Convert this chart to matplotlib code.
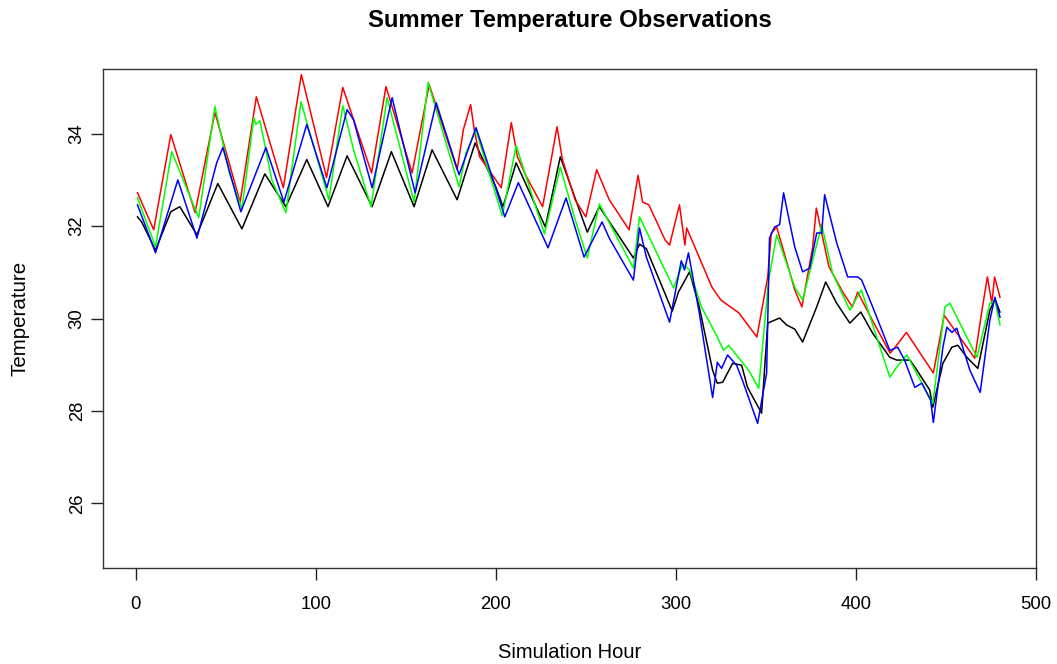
import matplotlib
matplotlib.use("Agg")
import matplotlib.pyplot as plt

plt.rcParams['font.family'] = ['Liberation Sans', 'DejaVu Sans']

# hourly observations at turning points
black_hours = [1, 3.3, 11, 19.5, 24.5, 34, 45.6, 59, 71.7, 83.4, 95, 106.8, 117.4, 131.3, 142,
               154.6, 164.6, 178.5, 188.5, 200, 204, 211.3, 227.5, 235.8, 250.8, 257.5, 268.6,
               276.4, 279.8, 283.6, 298, 301.4, 307.6, 313, 320.4, 323, 326, 331.5, 336.5, 339.8,
               347.6, 351, 357.6, 361.5, 366, 370.4, 378.2, 383.2, 389.3, 396.6, 402.7, 409.3,
               418.8, 422.7, 430, 432.7, 441, 442.7, 448.3, 453.3, 456.6, 461.6, 467.7, 474.4,
               477.2, 480]
black_temps = [32.20, 32.09, 31.48, 32.31, 32.42, 31.81, 32.92, 31.94, 33.13, 32.42, 33.44, 32.42,
               33.52, 32.42, 33.61, 32.42, 33.65, 32.57, 33.80, 32.85, 32.42, 33.37, 31.98, 33.50,
               31.87, 32.42, 31.77, 31.31, 31.61, 31.51, 30.16, 30.57, 31.01, 30.25, 28.88, 28.60,
               28.62, 29.03, 28.99, 28.51, 27.95, 29.90, 30.01, 29.86, 29.77, 29.49, 30.25, 30.79,
               30.33, 29.90, 30.14, 29.68, 29.16, 29.10, 29.10, 28.95, 28.45, 28.08, 29.03, 29.38,
               29.42, 29.16, 28.92, 30.18, 30.42, 30.14]

red_hours = [1, 10, 19.5, 33, 44, 58, 67, 82, 92, 106, 115, 131, 139, 153.5, 163, 178.5, 182,
             186, 188, 191, 195, 203, 208.6, 212, 217, 226, 230, 234, 237, 244, 250, 256, 259,
             263, 274, 279, 281.5, 285, 294, 296.5, 302, 305, 306, 320, 325, 335, 345, 351, 353,
             356, 366, 370, 376, 378, 385, 393, 398, 401, 409, 419, 424, 428, 443, 449, 466, 470,
             473, 475.5, 477, 480]
red_temps = [32.72, 31.92, 33.98, 32.29, 34.46, 32.52, 34.80, 32.83, 35.28, 33.05, 35.00, 33.15,
             35.02, 33.15, 35.06, 33.22, 34.09, 34.63, 34.09, 33.50, 33.28, 32.83, 34.24, 33.50,
             33.07, 32.42, 33.28, 34.15, 33.44, 32.57, 32.20, 33.22, 32.94, 32.57, 31.92, 33.10,
             32.52, 32.46, 31.70, 31.59, 32.46, 31.59, 31.96, 30.68, 30.40, 30.12, 29.60, 30.90,
             31.85, 31.98, 30.62, 30.25, 31.55, 32.39, 31.12, 30.55, 30.25, 30.57, 29.97, 29.25,
             29.49, 29.70, 28.82, 30.07, 29.14, 30.18, 30.90, 30.33, 30.90, 30.46]

green_hours = [1, 11, 20, 35, 44, 52, 59, 65.6, 66.7, 69, 75.6, 83.4, 91.8, 107.3, 115, 121,
               130.7, 139.6, 154.6, 162.4, 179.6, 183.5, 189, 203.6, 211.3, 227, 235.8, 243.6,
               250.8, 257.5, 276.4, 279.8, 298.7, 303.7, 307.6, 314.2, 323, 326.5, 329.3, 340.4,
               346, 351.5, 356, 366, 370.4, 381, 387, 396.6, 403, 409, 418.8, 422.7, 428.3, 442.7,
               449.4, 452.2, 467.2, 474.4, 477.2, 480]
green_temps = [32.61, 31.55, 33.61, 32.18, 34.59, 33.15, 32.37, 34.35, 34.20, 34.28, 33.00, 32.29,
               34.69, 32.57, 34.61, 33.65, 32.42, 34.78, 32.52, 35.11, 32.85, 33.59, 34.07, 32.22,
               33.74, 31.83, 33.28, 32.20, 31.31, 32.48, 31.09, 32.20, 30.66, 31.18, 31.05, 30.25,
               29.60, 29.31, 29.42, 28.88, 28.49, 30.83, 31.81, 30.68, 30.40, 32.03, 30.98, 30.18,
               30.62, 29.90, 28.73, 28.95, 29.21, 28.16, 30.25, 30.33, 29.16, 30.33, 30.40, 29.86]

blue_hours = [1, 11, 23.4, 34, 45, 48.4, 58.4, 72.3, 82.3, 95, 106.2, 117.4, 121, 131.3, 142.4,
              155.2, 166.9, 179.6, 189, 199, 205, 212.5, 229, 239, 249, 259, 263, 276.4, 279.8,
              283.6, 296.5, 303, 304.8, 307, 313, 320.4, 323, 325.4, 328.7, 333.7, 337, 345.4,
              350.4, 352, 354.8, 357.6, 359.8, 366, 370.4, 374.3, 378.2, 381, 382.6, 389.3, 395.4,
              401, 403.2, 409.3, 418.8, 423.2, 427, 432.7, 436.6, 441.5, 443, 448.3, 450.5, 453.3,
              456, 463.3, 469, 474.4, 477.2, 480]
blue_temps = [32.46, 31.42, 33.00, 31.74, 33.37, 33.70, 32.31, 33.70, 32.52, 34.20, 32.83, 34.52,
              34.30, 32.83, 34.78, 32.72, 34.67, 33.11, 34.13, 32.94, 32.20, 32.94, 31.53, 32.61,
              31.33, 32.09, 31.74, 30.83, 31.96, 31.33, 29.92, 31.25, 31.05, 31.42, 30.12, 28.29,
              29.05, 28.92, 29.21, 28.99, 28.66, 27.73, 28.82, 31.74, 31.98, 32.03, 32.72, 31.55,
              31.01, 31.09, 31.85, 31.85, 32.68, 31.64, 30.90, 30.90, 30.83, 30.25, 29.31, 29.38,
              29.10, 28.51, 28.60, 28.23, 27.75, 29.38, 29.81, 29.70, 29.79, 28.88, 28.40, 29.97,
              30.46, 30.03]

x_ticks = [0, 100, 200, 300, 400, 500]
y_ticks = [26, 28, 30, 32, 34]

fig = plt.figure(figsize=(10.57, 6.64), dpi=100)
ax = fig.add_axes([103 / 1057, 1 - 568 / 664, 933 / 1057, 499 / 664])

ax.plot(black_hours, black_temps, color='black', lw=1.1)
ax.plot(red_hours, red_temps, color='red', lw=1.1)
ax.plot(green_hours, green_temps, color='#00ff00', lw=1.1)
ax.plot(blue_hours, blue_temps, color='blue', lw=1.1)

# R style: 4% padding around xlim c(1,480), ylim c(25,35)
ax.set_xlim(1 - 0.04 * 479, 480 + 0.04 * 479)
ax.set_ylim(25 - 0.4, 35 + 0.4)

ax.set_xticks(x_ticks)
ax.set_yticks(y_ticks)
ax.tick_params(axis='both', length=8.5, width=1, labelsize=13.3, color='#222222')
ax.tick_params(axis='x', pad=12)
ax.tick_params(axis='y', pad=4)
for lab in ax.get_yticklabels():
    lab.set_rotation(90)
    lab.set_va('center')
for sp in ax.spines.values():
    sp.set_linewidth(1)
    sp.set_color('#333333')

fig.text(569.5 / 1057, 1 - 21 / 664, 'Summer Temperature Observations',
         ha='center', va='center', fontsize=17.2, fontweight='bold')
fig.text(569.5 / 1057, 1 - 653 / 664, 'Simulation Hour', ha='center', va='center', fontsize=14.5)
fig.text(20 / 1057, 1 - 318.5 / 664, 'Temperature', ha='center', va='center',
         rotation=90, fontsize=14.8)

fig.savefig('out.png', dpi=100)
